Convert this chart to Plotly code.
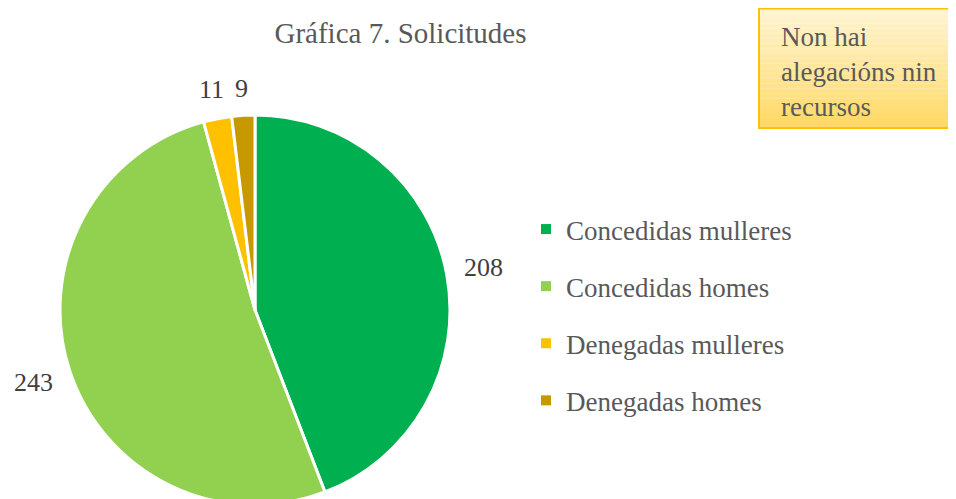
import math
import plotly.graph_objects as go

categories = ["Concedidas mulleres", "Concedidas homes", "Denegadas mulleres", "Denegadas homes"]
values = [208, 243, 11, 9]
colors = ["#00B050", "#92D050", "#FFC000", "#C89800"]
title_text = "Gráfica 7. Solicitudes"
note_text = "Non hai<br>alegacións nin<br>recursos"

# the page body adds an 8px margin; figure pixel coords below are already shifted
W, H = 956, 520
FONT = "Liberation Serif"
GREY = "#595959"
DARK = "#404040"

# pie geometry (figure pixels)
cx, cy, R = 247, 302, 195
dom_x = [(cx - R) / W, (cx + R) / W]
dom_y = [(H - cy - R) / H, (H - cy + R) / H]

fig = go.Figure()
fig.add_trace(go.Pie(
    labels=categories,
    values=values,
    marker=dict(colors=colors, line=dict(color="white", width=3)),
    sort=False,
    direction="clockwise",
    rotation=0,
    textinfo="none",
    domain=dict(x=dom_x, y=dom_y),
    showlegend=False,
    hoverinfo="label+value+percent",
))

# value labels placed radially outside each slice (angles derived from the values)
total = sum(values)
LBL = 26
acc = 0
for v in values:
    mid = (acc + v / 2) / total * 2 * math.pi
    acc += v
    s, c = math.sin(mid), math.cos(mid)
    hw = 0.5 * LBL * len(str(v)) / 2
    hh = 11
    d = R + 16 + hw * abs(s) + hh * abs(c)
    px, py = cx + d * s, cy - d * c
    fig.add_annotation(text=str(v), xref="paper", yref="paper",
                       x=px / W, y=1 - py / H, xanchor="center", yanchor="middle",
                       showarrow=False, font=dict(family=FONT, size=LBL, color=DARK))

# legend entries (one group per category so the spacing can be set)
for name, col in zip(categories, colors):
    fig.add_trace(go.Scatter(x=[None], y=[None], mode="markers", name=name,
                             legendgroup=name,
                             marker=dict(symbol="square", size=10, color=col),
                             hoverinfo="skip"))

# note box with vertical gradient
x0, x1, y0, y1 = 751, 962, 0.5, 120
n = 24
c_top = (255, 244, 210)
c_bot = (255, 217, 102)
for i in range(n):
    t = i / (n - 1)
    col = tuple(int(round(c_top[k] + (c_bot[k] - c_top[k]) * t)) for k in range(3))
    ya = y0 + (y1 - y0) * i / n
    yb = y0 + (y1 - y0) * (i + 1) / n
    fig.add_shape(type="rect", xref="paper", yref="paper",
                  x0=x0 / W, x1=x1 / W, y0=1 - ya / H, y1=1 - yb / H,
                  line=dict(width=0), fillcolor="rgb(%d,%d,%d)" % col, layer="below")
fig.add_shape(type="rect", xref="paper", yref="paper",
              x0=x0 / W, x1=x1 / W, y0=1 - y0 / H, y1=1 - y1 / H,
              line=dict(color="#FFC000", width=2), fillcolor="rgba(0,0,0,0)")

fig.add_annotation(text=note_text, xref="paper", yref="paper",
                   x=771 / W, y=1 - 64 / H, xanchor="left", yanchor="middle",
                   align="left", showarrow=False,
                   font=dict(family=FONT, size=27, color=GREY))

fig.update_layout(
    width=W, height=H,
    margin=dict(l=0, r=0, t=0, b=0),
    paper_bgcolor="white",
    plot_bgcolor="white",
    xaxis=dict(visible=False),
    yaxis=dict(visible=False),
    title=dict(text=title_text, x=392.5 / W, xanchor="center", xref="paper",
               y=1 - 25 / H, yanchor="middle", yref="container",
               font=dict(family=FONT, size=29, color=GREY)),
    legend=dict(x=518 / W, y=1 - 197 / H, xanchor="left", yanchor="top",
                valign="middle", tracegroupgap=19,
                font=dict(family=FONT, size=27, color=GREY),
                bgcolor="rgba(0,0,0,0)"),
    showlegend=True,
)

fig.write_html("out.html")
